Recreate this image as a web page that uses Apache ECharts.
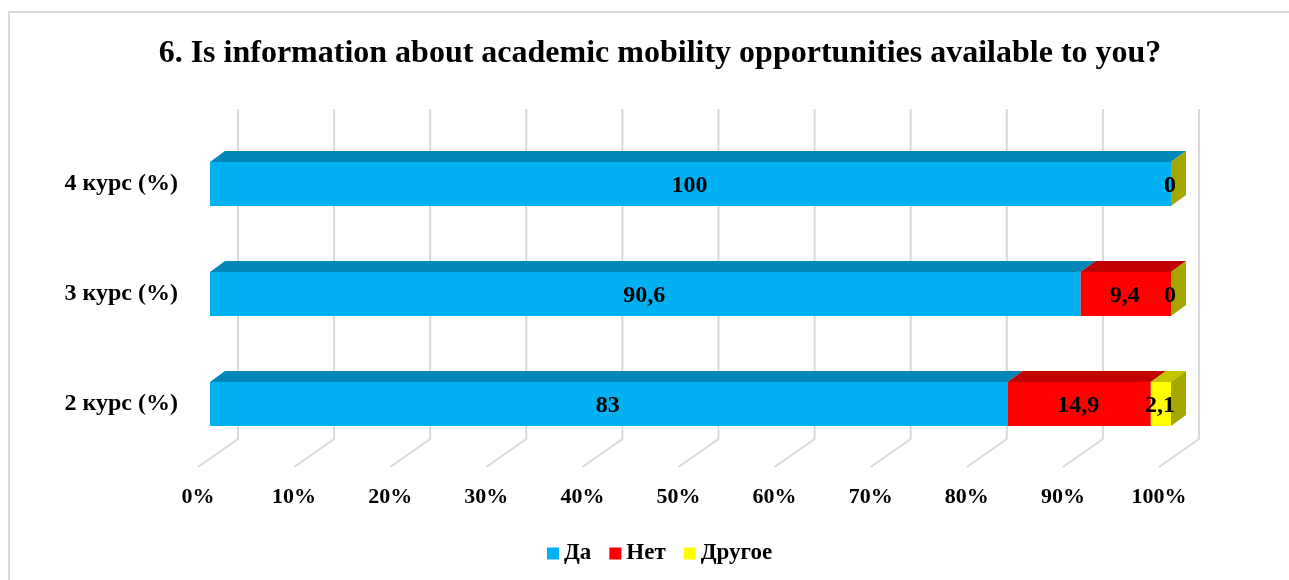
<!DOCTYPE html>
<html>
<head>
<meta charset="utf-8">
<title>Academic mobility</title>
<script src="https://cdn.jsdelivr.net/npm/echarts@6/dist/echarts.min.js"></script>
<style>
  html, body { margin: 0; padding: 0; background: #fff; }
  #chart { width: 1289px; height: 580px; }
</style>
</head>
<body>
<div id="chart"></div>
<script>
// данные с картинки
const categories = ["2 курс (%)", "3 курс (%)", "4 курс (%)"];
const seriesNames = ["Да", "Нет", "Другое"];
const da = [83, 90.6, 100];
const net = [14.9, 9.4, 0];
const drugoe = [2.1, 0, 0];
const xTicks = [0, 10, 20, 30, 40, 50, 60, 70, 80, 90, 100];

const faceColors = ["#00B0F0", "#FF0000", "#FFFF00"];
const topColors = ["#0086B8", "#C00000", "#C4C400"];
const sideColor = "#A6A600";
const font = "'Liberation Serif', 'Times New Roman', serif";

// глубина столбцов и стенки
const DX = 15, DY = 11;
const WALL_DX = 28, WALL_DY = 20;
const FLOOR_DX = 12, FLOOR_DY = 8;

const valuesList = [da, net, drugoe];

// данные для custom: [start, end, catIndex, value]
function buildData(k) {
  return categories.map((c, i) => {
    let start = 0;
    for (let j = 0; j < k; j++) start += valuesList[j][i];
    const v = valuesList[k][i];
    return [start, start + v, i, v];
  });
}

function barRenderer(k) {
  const isLast = k === valuesList.length - 1;
  return function (params, api) {
    const start = api.value(0), end = api.value(1), cat = api.value(2), v = api.value(3);
    const p0 = api.coord([start, cat]);
    const p1 = api.coord([end, cat]);
    const h = api.size([0, 1])[1] * 0.4;
    const x0 = p0[0], x1 = p1[0];
    const yt = p0[1] - h / 2, yb = p0[1] + h / 2;
    const children = [
      {
        type: "rect",
        shape: { x: x0, y: yt, width: x1 - x0, height: h },
        style: { fill: faceColors[k] },
      },
      {
        type: "polygon",
        shape: { points: [[x0, yt], [x0 + DX, yt - DY], [x1 + DX, yt - DY], [x1, yt]] },
        style: { fill: topColors[k] },
      },
    ];
    if (isLast) {
      children.push({
        type: "polygon",
        shape: { points: [[x1, yt], [x1 + DX, yt - DY], [x1 + DX, yb - DY], [x1, yb]] },
        style: { fill: sideColor },
      });
    }
    children.push({
      type: "text",
      z2: 10,
      style: {
        x: (x0 + x1) / 2 - 1,
        y: p0[1] + 2,
        text: String(v).replace(".", ","),
        align: "center",
        verticalAlign: "middle",
        fill: "#000",
        font: "bold 24px " + font,
      },
    });
    return { type: "group", children: children };
  };
}

// линии сетки: задняя стенка + пол
function gridRenderer(params, api) {
  const x = api.coord([api.value(0), 0])[0];
  const top = params.coordSys.y;
  const bottom = params.coordSys.y + params.coordSys.height;
  return {
    type: "polyline",
    shape: {
      points: [
        [x + WALL_DX, top - WALL_DY],
        [x + WALL_DX, bottom - WALL_DY],
        [x - FLOOR_DX, bottom + FLOOR_DY],
      ],
    },
    style: { stroke: "#d9d9d9", lineWidth: 2, fill: null },
  };
}

const chart = echarts.init(document.getElementById("chart"));

const series = [
  {
    name: "grid",
    type: "custom",
    silent: true,
    z: 1,
    renderItem: gridRenderer,
    data: xTicks.map((t) => [t, 0]),
  },
];
seriesNames.forEach((name, k) => {
  series.push({
    name: name,
    type: "custom",
    z: 2 + k,
    itemStyle: { color: faceColors[k] },
    renderItem: barRenderer(k),
    encode: { x: [0, 1], y: 2 },
    data: buildData(k),
  });
});

const option = {
  animation: false,
  backgroundColor: "#fff",
  graphic: [
    {
      type: "rect",
      silent: true,
      shape: { x: 9, y: 12, width: 1320, height: 620 },
      style: { fill: null, stroke: "#d9d9d9", lineWidth: 2 },
    },
  ],
  title: {
    text: "6. Is information about academic mobility opportunities available to you?",
    left: 655,
    textAlign: "center",
    top: 33,
    textStyle: { fontFamily: font, fontWeight: "bold", fontSize: 32, color: "#000" },
  },
  legend: {
    data: seriesNames,
    left: 542,
    top: 537,
    icon: "rect",
    itemWidth: 12,
    itemHeight: 12,
    itemGap: 18,
    textStyle: { fontFamily: font, fontWeight: "bold", fontSize: 23, color: "#000" },
  },
  grid: { left: 210, right: 118, top: 129, bottom: 121 },
  xAxis: {
    type: "value",
    min: 0,
    max: 100,
    interval: 10,
    splitLine: { show: false },
    axisLine: { show: false },
    axisTick: { show: false },
    axisLabel: {
      formatter: "{value}%",
      margin: 27,
      padding: [0, 24, 0, 0],
      fontFamily: font,
      fontWeight: "bold",
      fontSize: 22,
      color: "#000",
    },
  },
  yAxis: {
    type: "category",
    data: categories,
    axisLine: { show: false },
    axisTick: { show: false },
    axisLabel: {
      margin: 32,
      padding: [22, 0, 0, 0],
      fontFamily: font,
      fontWeight: "bold",
      fontSize: 24,
      color: "#000",
    },
  },
  series: series,
};

chart.setOption(option);
</script>
</body>
</html>
